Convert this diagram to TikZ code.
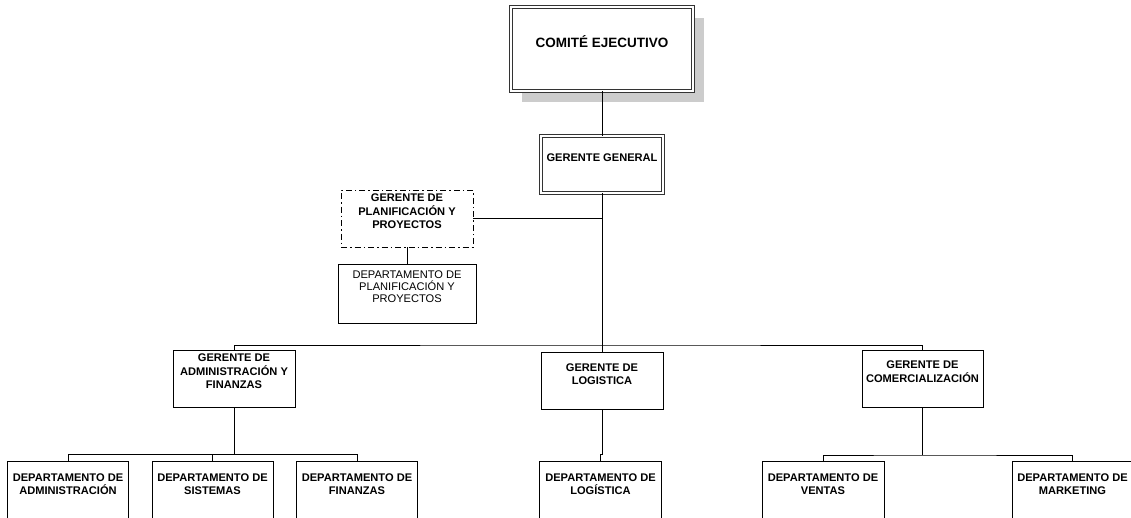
\documentclass[tikz,border=0pt]{standalone}
\usepackage{fontspec}
\setmainfont{Liberation Sans}
\usetikzlibrary{shadows}
\newcommand{\myfb}{\fontsize{11.1}{13.6}\selectfont\bfseries}
\newcommand{\myfr}{\fontsize{11.1}{12}\selectfont}
\newcommand{\myfbig}{\fontsize{13.5}{16}\selectfont\bfseries}
\begin{document}
\begin{tikzpicture}[x=1pt,y=-1pt,
  bx/.style 2 args={draw=black, line width=0.9pt, fill=white, minimum width=#1pt, minimum height=#2pt, inner sep=0pt, outer sep=0pt},
  dbl/.style={double=white, double distance=1.3pt, line width=1.1pt, draw=black!80},
  dashdotbox/.style={dash pattern=on 6pt off 3pt on 1.5pt off 3pt},
  lbl/.style={anchor=center, align=center, inner sep=0pt, yshift=7pt, font=\myfb},
  conn/.style={draw=black, line width=0.9pt},
]
\useasboundingbox (0,0) rectangle (1131,517);
\clip (0,0) rectangle (1131,517);

\node[bx={182}{84}, dbl, drop shadow={shadow xshift=11pt, shadow yshift=-11pt, fill=black!20, opacity=1, draw=none},
      label={[lbl, font=\myfbig]center:COMITÉ EJECUTIVO}] (comite) at (602,49) {};
\node[bx={122}{57}, dbl, label={[lbl]center:GERENTE GENERAL}] (gg) at (602,164.5) {};
\node[bx={132}{57}, dashdotbox, label={[lbl]center:GERENTE DE\\PLANIFICACIÓN Y\\PROYECTOS}] (gplan) at (407,218.5) {};
\node[bx={138}{59}, label={[lbl, font=\myfr]center:DEPARTAMENTO DE\\PLANIFICACIÓN Y\\PROYECTOS}] (dplan) at (407,293.5) {};

\node[bx={122}{57}, label={[lbl]center:GERENTE DE\\ADMINISTRACIÓN Y\\FINANZAS}] (gadm) at (234,378.5) {};
\node[bx={122}{57}, label={[lbl]center:GERENTE DE\\LOGISTICA}] (glog) at (602,381) {};
\node[bx={121}{57}, label={[lbl]center:GERENTE DE\\COMERCIALIZACIÓN}] (gcom) at (922.5,378.5) {};

\node[bx={121}{57}, label={[lbl, yshift=-1.5pt]center:DEPARTAMENTO DE\\ADMINISTRACIÓN}] (dadm) at (68,489.5) {};
\node[bx={121}{57}, label={[lbl, yshift=-1.5pt]center:DEPARTAMENTO DE\\SISTEMAS}] (dsis) at (212.5,489.5) {};
\node[bx={121}{57}, label={[lbl, yshift=-1.5pt]center:DEPARTAMENTO DE\\FINANZAS}] (dfin) at (357,489.5) {};
\node[bx={122}{57}, label={[lbl, yshift=-1.5pt]center:DEPARTAMENTO DE\\LOGÍSTICA}] (dlog) at (600.5,489.5) {};
\node[bx={122}{57}, label={[lbl, yshift=-1.5pt]center:DEPARTAMENTO DE\\VENTAS}] (dven) at (823,489.5) {};
\node[bx={121}{57}, label={[lbl, yshift=-1.5pt]center:DEPARTAMENTO DE\\MARKETING}] (dmkt) at (1072.5,489.5) {};

\coordinate (b1) at (602,345);
\coordinate (b2) at (234,454.5);
\coordinate (b3) at (922.5,455);

\draw[conn] (comite.south) -- (gg.north);
\draw[conn] (gg.south) -- (b1);
\draw[conn] (gplan.east) -- (gplan.east -| gg.south);
\draw[conn] (gplan.south) -- (gplan.south |- dplan.north);
\draw[conn] (gadm.north) |- (b1) -| (gcom.north);
\draw[conn] (b1) -- (glog.north);
\draw[conn] (gadm.south) -- (b2);
\draw[conn] (dadm.north) |- (b2) -| (dfin.north);
\draw[conn] (dsis.north) -- (dsis.north |- b2);
\draw[conn] (glog.south) -- (glog.south |- b2) -| (dlog.north);
\draw[conn] (gcom.south) -- (b3);
\draw[conn] (dven.north) |- (b3) -| (dmkt.north);
\end{tikzpicture}
\end{document}
